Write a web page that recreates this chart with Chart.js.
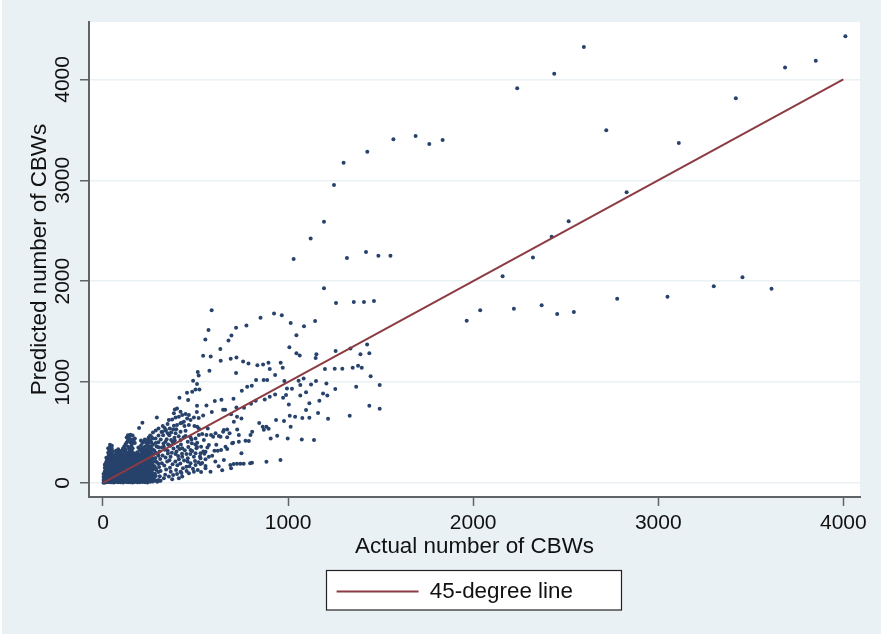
<!DOCTYPE html>
<html><head><meta charset="utf-8">
<script src="https://cdn.jsdelivr.net/npm/chart.js@4"></script>
<style>
html,body{margin:0;padding:0;background:#fff;width:881px;height:634px;overflow:hidden}
#bg{position:absolute;left:2px;top:0;width:879px;height:634px;background:#eaf1f4}
#wrap{position:absolute;left:0;top:0;width:881px;height:634px}
</style></head><body>
<div id="bg"></div>
<div id="wrap"><canvas id="c" width="881" height="634"></canvas></div>
<script>
const xTicks = [0,1000,2000,3000,4000];
const yTicks = [0,1000,2000,3000,4000];
const lineActual = [0,4000];
const linePredicted = [0,4000];

const outlierActual = [2598,2438,2238,1569,1689,1763,1835,1428,1300,1248,1194,1122,1030,1318,1421,1488,1553,2516,2424,2323,2159,1194,1259,1355,1410,1464,966,1014,1086,1146,1045,1965,2038,2220,2370,2454,2544,4011,3851,3685,3419,2719,3111,2829,2778,3050,3300,3455,3612];
const outlierPredicted = [4321,4057,3912,3406,3439,3360,3400,3284,3175,2954,2590,2422,2220,2230,2289,2253,2253,2593,2441,2236,2048,1929,1784,1794,1794,1804,1662,1586,1553,1606,1463,1609,1711,1728,1761,1675,1695,4427,4186,4117,3813,3495,3370,2881,1827,1847,1949,2038,1926];

const midActual = [587,570,553,719,775,694,678,851,924,1007,1045,1063,1153,1149,1257,1337,1391,1439,1427,634,541,582,636,690,721,757,786,834,865,894,960,971,901,930,1199,1252,1293,1349,1378,1398,1446,1495,512,517,575,719,827,868,887,980,1057,1084,1151,1207,1066,1124,1255,1368,804,779,750,1021,994,930,901,874,825,800,762,721,705,640,604,559,508,973,989,1066,1097,1189,1212,1169,1115,1004,1097,1162,1439,1495,1333,1009,1038,1077,1115,1216,935,978,1014,906,941,998,1074,1140,883,863,844,869,895,748,724,692,649,660,588,541,517,507,487,508,500,521,482,454,413,460,291,213,195,959,883,805,795,760,742,724,706,688,692,644,607,625,653,748,703,734,770,788,797,806,734,671,698,725,684,635,653,707];
const midPredicted = [1713,1515,1422,1538,1561,1462,1412,1637,1680,1346,1287,1264,1277,1238,1307,1333,1277,1287,1373,1327,1261,1254,1211,1231,1244,1205,1185,1168,1175,1191,1191,1142,1129,1069,1129,1132,1132,1142,1162,1142,1059,970,1099,1066,1112,1089,1020,1020,1020,1010,1013,1036,1010,987,970,977,931,954,964,954,914,934,937,878,855,828,815,785,746,749,835,825,812,769,766,845,871,868,898,888,868,815,789,779,723,693,766,736,667,667,657,644,647,637,624,614,558,442,469,442,432,426,558,558,594,528,538,640,657,680,726,726,703,670,644,703,1013,980,927,927,904,894,845,822,650,597,545,228,211,201,195,191,191,191,188,178,145,125,214,165,228,294,399,409,419,416,475,508,475,452,393,531,492,459,525,607];

const fanActual = [388,400,383,419,356,374,392,410,428,446,464,473,455,437,491,440,464,494,509,518,419,400,379,361,338,323,320,350,392,419,446,473,458,480,509,536,559,584,608,626,649,671,566,595,505,530,554,527,500,473,451,428,404,383,368,419,500,545,572,602,620,638,671,662,572,554,527,491,458,428,410,392,365,350,329,338,500,527,554,473,451,464,491,512,530,554,581,419,400,379,428,410,356,374,329,311,293];
const fanPredicted = [729,739,690,706,624,630,650,657,673,683,673,624,640,607,650,564,574,564,558,541,591,574,531,541,518,564,508,492,492,508,465,452,409,393,399,485,475,475,492,465,508,531,541,459,343,360,310,294,294,327,287,343,360,393,426,426,442,426,376,320,320,327,337,360,261,234,244,261,244,261,234,287,261,320,360,409,178,188,168,195,162,96,112,129,109,145,112,112,89,79,63,46,63,36,46,23,13];

const rayActual = [274,281,288,279,292,283,296,277,290,299,284,303,307,311,303,318,309,322,306,318,327,312,325,316,333,336,341,331,347,338,351,334,352,344,358,340,349,366,362,376,359,372,381,364,377,386,368,383,395,402,391,406,397,414,388,409,396,424,432,418,438,427,442,421,436,446,426,452,467,457,472,461,478,486,497,482,499,516,524,508,536,548,564,590,612,518,542];
const rayPredicted = [48,92,128,166,204,248,286,322,362,404,442,22,66,118,158,196,238,272,312,352,392,432,472,506,544,82,134,172,214,252,292,330,382,434,472,526,584,112,152,186,226,300,342,368,404,448,500,566,128,176,212,268,312,336,420,462,532,98,146,192,222,290,324,382,452,518,596,118,166,212,286,356,430,142,218,316,382,206,262,356,198,290,352,270,380,476,312];

const cloudActual = [3,10,14,18,23,28,33,38,43,48,53,58,64,70,76,82,88,95,101,108,115,122,128,135,141,148,154,160,166,172,178,185,191,198,205,212,219,226,233,240,247,255,262,270,285,300];
const cloudPredicted = [
[3,30,60,90],
[5,28,55,85,115,150,180],
[15,42,72,105,140,190],
[8,25,60,95,130,170,210,250],
[18,45,80,115,150,190,235],
[10,30,65,100,135,175,215,260,300,345],
[20,50,85,120,158,198,240,285,328],
[6,35,70,105,140,180,225,265,310,355,378],
[20,50,88,122,160,200,245,288,330,362],
[8,30,62,96,130,170,205,250,290,340,368],
[18,45,78,110,145,178,215,270,310],
[5,28,60,90,125,160,195,235,262],
[20,50,80,115,150,185,225,270],
[10,35,65,100,135,170,205,245,290,320],
[22,48,82,118,152,188,225,268,305],
[6,30,62,95,130,165,200,240,280,335],
[18,46,78,112,148,182,220,260,310],
[8,32,70,105,140,175,210,250,300],
[20,50,85,122,158,192,230,275,320],
[5,35,65,100,135,170,205,240,285,342],
[20,48,82,118,152,188,222,262,310,362],
[10,30,62,95,130,165,200,235,270,330,385],
[18,45,80,115,150,185,220,255,300,400,450],
[6,32,68,100,135,170,205,240,280,360,420,472],
[20,50,82,118,152,188,222,258,300,335,440,465],
[8,35,65,98,130,165,200,235,270,310,350,400,478],
[18,45,78,112,148,178,212,248,285,325,370,430],
[5,30,60,95,130,160,195,230,265,300,345,395,470],
[22,52,85,118,152,188,222,258,295,415],
[10,35,70,100,135,170,205,240,275,395,440],
[20,48,78,112,148,182,218,252,288],
[8,30,62,95,128,165,198,232,268,305],
[20,50,82,118,152,185,215,250,288,352],
[6,35,68,100,135,168,200,235,270,330],
[22,50,82,115,148,182,216,250,285,322,370,420],
[10,32,65,98,132,165,200,232,268,300,345,395],
[20,48,78,112,148,182,216,250,288,330,412],
[8,30,60,95,130,162,198,235,270,310,360,430],
[18,45,78,112,148,180,215,252,290,335,395],
[5,35,70,100,135,170,205,240,280,320,370,425],
[20,52,85,118,152,188,222,260,298,345,398,450],
[12,30,65,100,130,165,200,235,275,315,365,420,470],
[22,48,82,115,152,188,222,258,295,345,400,455],
[15,32,62,95,135,170,205,240,285,330,380,440,500],
[25,70,140,215,300,395,520],
[30,110,190,270,355,470,540]
];

const axisColor = '#5f6468';
const gridColor = '#eaf1f4';
const markColor = '#27426b';
const lineColor = '#8c3b42';
const textFont = '"Liberation Sans", Arial, sans-serif';
const tickSize = 21;
const labelSize = 22.4;

const scatterPoints = [];
outlierActual.forEach((x,i)=>scatterPoints.push({x, y:outlierPredicted[i]}));
midActual.forEach((x,i)=>scatterPoints.push({x, y:midPredicted[i]}));
fanActual.forEach((x,i)=>scatterPoints.push({x, y:fanPredicted[i]}));
rayActual.forEach((x,i)=>scatterPoints.push({x, y:rayPredicted[i]}));
cloudActual.forEach((x,i)=>cloudPredicted[i].forEach(y=>scatterPoints.push({x,y})));
const linePoints = lineActual.map((x,i)=>({x, y:linePredicted[i]}));

const framePlugin = {
  id:'frame',
  afterLayout(chart){
    const l = chart.legend;
    const h = l.height;
    l.left = 307; l.right = 602.5; l.width = 295.5;
    l.top = 587.5 - h/2; l.bottom = 587.5 + h/2;
  },
  beforeDraw(chart){
    const {ctx, chartArea:a} = chart;
    ctx.save();
    ctx.fillStyle = '#fff';
    ctx.fillRect(a.left, a.top, a.right-a.left, a.bottom-a.top);
    ctx.fillRect(326.5, 570.5, 295, 39.5);
    ctx.strokeStyle = '#222';
    ctx.lineWidth = 1.2;
    ctx.strokeRect(326.5, 570.5, 295, 39.5);
    ctx.restore();
  }
};

new Chart(document.getElementById('c'), {
  type:'scatter',
  plugins:[framePlugin],
  data:{datasets:[
    {label:'45-degree line', type:'line', data:linePoints, borderColor:lineColor, backgroundColor:lineColor, borderWidth:2, pointRadius:0, fill:false, tension:0, order:0},
    {label:'Observations', data:scatterPoints, backgroundColor:markColor, borderColor:markColor, borderWidth:0, pointRadius:2, order:1}
  ]},
  options:{
    responsive:false, animation:false,
    layout:{padding:{left:26,right:21,top:22,bottom:0}},
    plugins:{
      tooltip:{enabled:false},
      legend:{display:true, position:'bottom', align:'center',
        labels:{filter:it=>it.text==='45-degree line', boxWidth:82, boxHeight:0, padding:18, color:'#111', font:{family:textFont,size:labelSize}}}
    },
    scales:{
      x:{type:'linear', min:-75.6, max:4090,
        afterBuildTicks:s=>{s.ticks=xTicks.map(v=>({value:v}));},
        afterFit:s=>{s.height=137-s.chart.legend.height;},
        ticks:{color:'#111', padding:5, maxRotation:0, font:{family:textFont,size:tickSize}, callback:v=>String(v)},
        grid:{drawOnChartArea:false, drawTicks:true, tickLength:9, tickColor:axisColor, tickWidth:1.5},
        border:{display:true,color:axisColor,width:2},
        title:{display:true,text:'Actual number of CBWs',color:'#111',font:{family:textFont,size:labelSize},padding:{top:0,bottom:23}}
      },
      y:{type:'linear', min:-139, max:4569,
        afterBuildTicks:s=>{s.ticks=yTicks.map(v=>({value:v}));},
        afterFit:s=>{s.width=63;},
        ticks:{color:'#111', minRotation:90, maxRotation:90, crossAlign:'center', padding:-7, font:{family:textFont,size:tickSize}, callback:v=>String(v)},
        grid:{color:gridColor, lineWidth:1.5, drawTicks:true, tickLength:9, tickColor:axisColor, tickWidth:1.5},
        border:{display:true,color:axisColor,width:2},
        title:{display:true,text:'Predicted number of CBWs',color:'#111',font:{family:textFont,size:labelSize},padding:{top:0,bottom:0}}
      }
    }
  }
});
</script>
</body></html>
